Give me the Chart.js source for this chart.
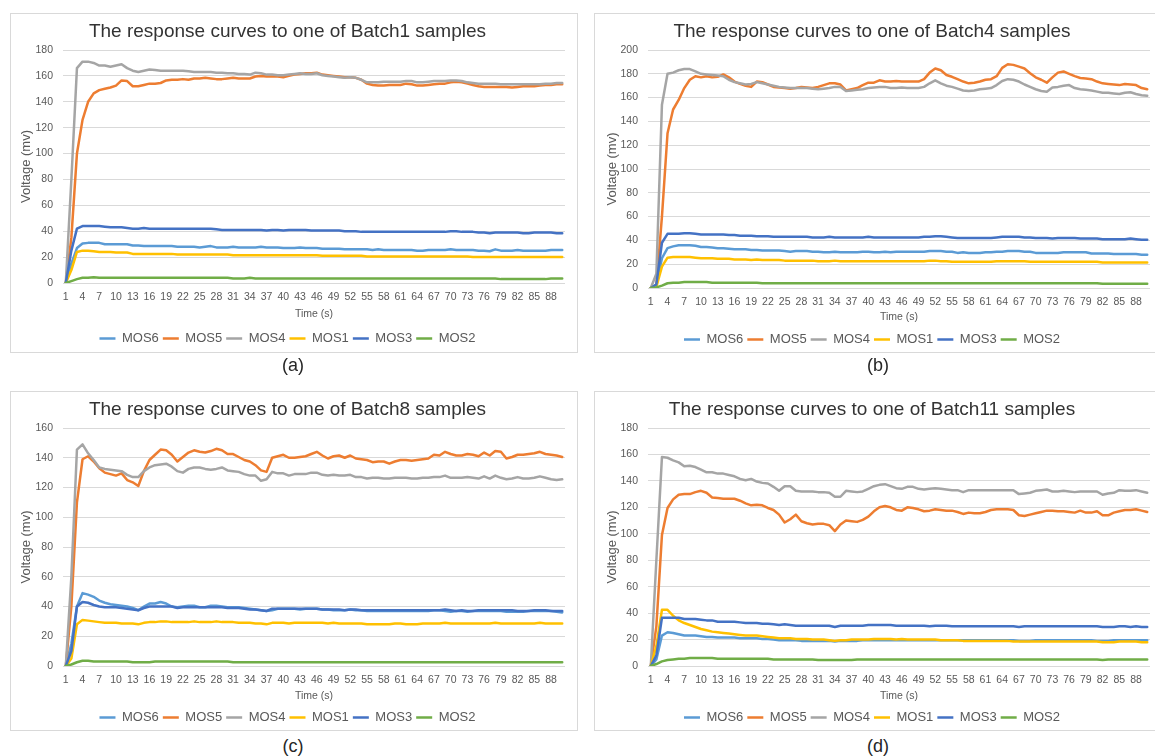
<!DOCTYPE html>
<html>
<head>
<meta charset="utf-8">
<title>MOS sensor response curves</title>
<script src="https://cdn.jsdelivr.net/npm/chart.js@4.4.1/dist/chart.umd.min.js"></script>
<style>
  html, body { margin: 0; padding: 0; background: #ffffff; }
  body { width: 1155px; height: 756px; position: relative; overflow: hidden;
         font-family: "Liberation Sans", Arial, sans-serif; }
  canvas { position: absolute; }
  .frame { position: absolute; border: 1px solid #d9d9d9; box-sizing: border-box; pointer-events: none; }
  .cap { position: absolute; width: 60px; margin-left: -30px; text-align: center;
         font-size: 18px; line-height: 22px; color: #262626; }
</style>
</head>
<body>
<div class="frame" style="left:10px;top:13px;width:568px;height:340px"></div>
<div class="frame" style="left:594px;top:13px;width:570px;height:340px"></div>
<div class="frame" style="left:10px;top:391px;width:568px;height:340px"></div>
<div class="frame" style="left:594px;top:391px;width:570px;height:340px"></div>

<canvas id="chartA" width="568" height="342" style="left:10px;top:13px"></canvas>
<canvas id="chartB" width="565" height="343" style="left:594px;top:13px"></canvas>
<canvas id="chartC" width="568" height="343" style="left:10px;top:391px"></canvas>
<canvas id="chartD" width="565" height="343" style="left:594px;top:391px"></canvas>

<div class="cap" style="left:293px;top:354px">(a)</div>
<div class="cap" style="left:878px;top:354px">(b)</div>
<div class="cap" style="left:293px;top:735px">(c)</div>
<div class="cap" style="left:878px;top:735px">(d)</div>

<script>
// Time axis (s)
const timeLabels = [
  1, 2, 3, 4, 5, 6, 7, 8, 9, 10, 11, 12, 13, 14, 15,
  16, 17, 18, 19, 20, 21, 22, 23, 24, 25, 26, 27, 28, 29, 30,
  31, 32, 33, 34, 35, 36, 37, 38, 39, 40, 41, 42, 43, 44, 45,
  46, 47, 48, 49, 50, 51, 52, 53, 54, 55, 56, 57, 58, 59, 60,
  61, 62, 63, 64, 65, 66, 67, 68, 69, 70, 71, 72, 73, 74, 75,
  76, 77, 78, 79, 80, 81, 82, 83, 84, 85, 86, 87, 88, 89, 90
];

const seriesNames = ['MOS6', 'MOS5', 'MOS4', 'MOS1', 'MOS3', 'MOS2'];
const seriesColors = ['#5B9BD5', '#ED7D31', '#A5A5A5', '#FFC000', '#4472C4', '#70AD47'];

// ---------- Batch1 (mV) ----------
const batch1_MOS6 = [
  0, 15, 27, 30.5, 31, 31, 31, 30, 30, 30, 30, 30, 29, 29, 28.5,
  28.5, 28.5, 28.5, 28.5, 28.5, 28, 28, 28, 28, 27.5, 28, 28.5, 27.5, 27.5, 27.5,
  28, 27.5, 27.5, 27.5, 27.5, 28, 27.5, 27.5, 27.5, 27, 27, 27, 27.5, 27, 27,
  27, 26.5, 26.5, 26.5, 26.5, 26, 26, 26, 26, 26, 25.5, 26, 25.5, 25.5, 25.5,
  25.5, 25.5, 25.5, 25, 25, 25.5, 25.5, 25.5, 25.5, 26, 25.5, 25.5, 25.5, 25.5, 25,
  25, 24.5, 26, 25, 25, 25, 25.5, 25, 25, 25, 25, 25, 25.5, 25.5, 25.5
];
const batch1_MOS5 = [
  0, 35, 100, 126, 140, 146.5, 149, 150, 151, 152.5, 156.5, 156, 152, 152, 153,
  154, 154, 154.5, 156.5, 157, 157, 157.5, 157, 158, 158, 158.5, 158, 157.5, 157.5, 158,
  158.5, 158, 158, 158, 159.5, 160, 159.5, 159.5, 159.5, 159, 160, 161, 161.5, 162, 162,
  162.5, 161, 160.5, 160, 159.5, 159, 159, 158.5, 157, 154, 153, 152.5, 152.5, 153, 153,
  153, 154, 153.5, 152.5, 152.5, 153, 153.5, 154, 154, 155, 155.5, 155, 154, 153, 152,
  151.5, 151.5, 151.5, 151.5, 151.5, 151, 151.5, 152, 152, 152, 152.5, 153, 153, 153.5, 153.5
];
const batch1_MOS4 = [
  0, 80, 166, 171, 171, 170, 168, 168, 167, 168, 169, 166, 164, 163, 164,
  165, 164.5, 164, 164, 164, 164, 164, 163.5, 163, 163, 163, 163, 162.5, 162.5, 162,
  162, 161.5, 161.5, 161, 162.5, 162, 161, 161, 160.5, 160.5, 161, 161.5, 162, 161.5, 161.5,
  162, 160.5, 160, 159.5, 159, 158.5, 159, 158.5, 157, 155, 155, 155, 155.5, 155.5, 155.5,
  155.5, 156, 156, 155, 155, 155.5, 156, 156, 156, 156.5, 156.5, 156, 155, 154.5, 154,
  154, 154, 154, 153.5, 153.5, 153.5, 153.5, 153.5, 153.5, 153.5, 153.5, 154, 154, 154.5, 154.5
];
const batch1_MOS1 = [
  0, 10, 24, 25, 25, 24.5, 24, 24, 24, 23.5, 23.5, 23.5, 22.5, 22.5, 22.5,
  22.5, 22.5, 22.5, 22.5, 22.5, 22, 22, 22, 22, 22, 22, 22, 22, 22, 22,
  21.5, 21.5, 21.5, 21.5, 21.5, 21.5, 21.5, 21.5, 21.5, 21.5, 21.5, 21.5, 21.5, 21.5, 21.5,
  21.5, 21, 21, 21, 21, 21, 21, 21, 21, 20.5, 20.5, 20.5, 20.5, 20.5, 20.5,
  20.5, 20.5, 20.5, 20.5, 20.5, 20.5, 20.5, 20.5, 20.5, 20.5, 20.5, 20.5, 20.5, 20, 20,
  20, 20, 20, 20, 20, 20, 20, 20, 20, 20, 20, 20, 20, 20, 20
];
const batch1_MOS3 = [
  0, 25, 42, 44, 44, 44, 44, 43.5, 43, 43, 43, 42.5, 42, 42, 42.5,
  42, 42, 42, 42, 42, 42, 42, 42, 42, 42, 42, 42, 41.5, 41, 41,
  41, 41, 41, 41, 41, 41, 40.5, 41, 41, 40.5, 41, 41, 41, 41, 40.5,
  40.5, 40.5, 40.5, 40.5, 40.5, 40, 40, 40, 39.5, 39.5, 39.5, 39.5, 39.5, 39.5, 39.5,
  39.5, 39.5, 39.5, 39.5, 39.5, 39.5, 39.5, 39.5, 39.5, 40, 40, 39.5, 39.5, 39.5, 39,
  39, 38.5, 39, 39, 39, 39, 39, 38.5, 38.5, 39, 39, 39, 39, 38.5, 38.5
];
const batch1_MOS2 = [
  0, 1.5, 3, 4, 4, 4.5, 4, 4, 4, 4, 4, 4, 4, 4, 4,
  4, 4, 4, 4, 4, 4, 4, 4, 4, 4, 4, 4, 4, 4, 4,
  3.5, 3.5, 3.5, 4, 3.5, 3.5, 3.5, 3.5, 3.5, 3.5, 3.5, 3.5, 3.5, 3.5, 3.5,
  3.5, 3.5, 3.5, 3.5, 3.5, 3.5, 3.5, 3.5, 3.5, 3.5, 3.5, 3.5, 3.5, 3.5, 3.5,
  3.5, 3.5, 3.5, 3.5, 3.5, 3.5, 3.5, 3.5, 3.5, 3.5, 3.5, 3.5, 3.5, 3.5, 3.5,
  3.5, 3.5, 3.5, 3, 3, 3, 3, 3, 3, 3, 3, 3, 3.5, 3.5, 3.5
];

// ---------- Batch4 (mV) ----------
const batch4_MOS6 = [
  0, 3, 25, 33.5, 35, 36, 36, 36, 35.5, 34.5, 34.5, 34, 33.5, 33.5, 33,
  32.5, 32.5, 32.5, 32, 32, 31.5, 31.5, 31.5, 31.5, 31, 30.5, 31, 31, 31, 30.5,
  30.5, 30, 30, 30.5, 30, 30, 30, 30, 30.5, 30.5, 30, 30, 30.5, 30, 30.5,
  30.5, 30.5, 30.5, 30.5, 30.5, 31, 31, 31, 30.5, 30.5, 29.5, 30, 29.5, 29.5, 29.5,
  30, 30, 30.5, 30.5, 31, 31, 31, 30.5, 30.5, 29.5, 29.5, 29.5, 29.5, 29.5, 30,
  30, 30, 30, 30, 29, 29, 29, 29, 28.5, 28.5, 28.5, 28.5, 28.5, 28, 28
];
const batch4_MOS5 = [
  0, 2, 60, 130, 150, 158, 168, 175, 178, 177, 178, 177, 177.5, 179.5, 177,
  173.5, 171.5, 170, 169, 173.5, 173, 171, 169, 168.5, 168, 167.5, 168, 169, 168.5, 168,
  169, 170.5, 172, 172, 171, 166, 167, 168, 170.5, 172.5, 172.5, 174.5, 173.5, 173.5, 174,
  173.5, 173.5, 173.5, 173.5, 175.5, 181, 184.5, 183, 179, 177.5, 175.5, 173.5, 172, 172.5, 173.5,
  175, 175.5, 178, 185, 188, 187.5, 186, 184.5, 180.5, 177, 175, 172.5, 177, 181, 182,
  180, 178, 176.5, 176, 175.5, 173.5, 172, 171.5, 171, 170.5, 171.5, 171, 170.5, 168, 167
];
const batch4_MOS4 = [
  0, 12, 154, 180, 181, 183, 184, 184, 182, 180, 179.5, 179, 178.5, 178, 175,
  173, 172, 171, 171.5, 173, 172, 171, 170, 169, 168.5, 168, 168, 168, 168, 167.5,
  167, 167.5, 168, 169, 169, 165.5, 166, 166.5, 167, 168, 168.5, 169, 169, 168, 168,
  168.5, 168, 168, 168, 169, 172, 174.5, 172, 170, 169, 167.5, 166, 165.5, 166, 167,
  167.5, 168, 170.5, 174, 175.5, 175, 173.5, 171, 169, 167, 165.5, 165, 168.5, 169, 170,
  170.5, 168, 167, 166.5, 166, 165, 164, 164, 163.5, 163, 164, 164.5, 163, 162, 161.5
];
const batch4_MOS1 = [
  0, 1, 18, 25.5, 26, 26, 26, 26, 25.5, 25, 25, 25, 24.5, 24.5, 24.5,
  24, 24, 24, 23.5, 24, 23.5, 23.5, 23.5, 23.5, 23, 23, 23, 23, 23, 23,
  22.5, 22.5, 22.5, 23, 22.5, 22.5, 22.5, 22.5, 22.5, 22.5, 22.5, 22.5, 22.5, 22.5, 22.5,
  22.5, 22.5, 22.5, 22.5, 22.5, 23, 23, 22.5, 22.5, 22, 22, 22, 22, 22, 22,
  22, 22, 22.5, 22.5, 22.5, 22.5, 22.5, 22.5, 22, 22, 22, 22, 22, 22, 22,
  22, 22, 22, 22, 22, 22, 21.5, 21.5, 21.5, 21.5, 21.5, 21.5, 21.5, 21.5, 21.5
];
const batch4_MOS3 = [
  0, 3, 38, 45.5, 45.5, 45.5, 46, 46, 45.5, 45, 45, 45, 45, 45, 44.5,
  44.5, 44, 44, 44, 43.5, 43.5, 43.5, 43, 43, 43, 43, 43, 43, 43, 42.5,
  42.5, 42.5, 43, 42.5, 42.5, 42.5, 42.5, 42.5, 42.5, 43, 42.5, 42.5, 42.5, 42.5, 42.5,
  42.5, 42.5, 42.5, 42.5, 43, 43, 43.5, 43.5, 43, 42.5, 42, 42, 42, 42, 42,
  42, 42, 42.5, 43, 43, 43, 43, 42.5, 42.5, 42, 42, 42, 41.5, 42, 42,
  42, 42, 41.5, 41.5, 41.5, 41.5, 41, 41, 41, 41, 41, 41.5, 41, 40.5, 40.5
];
const batch4_MOS2 = [
  0, 0.5, 2, 4, 4.5, 4.5, 5, 5, 5, 5, 5, 4.5, 4.5, 4.5, 4.5,
  4.5, 4.5, 4.5, 4.5, 4.5, 4, 4, 4, 4, 4, 4, 4, 4, 4, 4,
  4, 4, 4, 4, 4, 4, 4, 4, 4, 4, 4, 4, 4, 4, 4,
  4, 4, 4, 4, 4, 4, 4, 4, 4, 4, 4, 4, 4, 4, 4,
  4, 4, 4, 4, 4, 4, 4, 4, 4, 4, 4, 4, 4, 4, 4,
  4, 4, 4, 4, 4, 4, 3.5, 3.5, 3.5, 3.5, 3.5, 3.5, 3.5, 3.5, 3.5
];

// ---------- Batch8 (mV) ----------
const batch8_MOS6 = [
  0, 15, 40, 49, 48, 46.5, 44, 42.5, 41.5, 41, 40.5, 40, 39, 37.5, 40,
  42, 42, 43, 42, 40, 39.5, 40, 40.5, 40.5, 39.5, 39.5, 40.5, 40.5, 40, 39.5,
  39.5, 39.5, 39, 38.5, 38, 37.5, 37, 37.5, 38.5, 38.5, 38.5, 38.5, 38, 38.5, 38.5,
  38.5, 38, 38, 37.5, 37.5, 37.5, 38, 37.5, 37.5, 37, 37, 37, 37, 37, 37,
  37, 37, 37, 37, 37, 37, 37.5, 37.5, 37, 36.5, 37, 37, 36.5, 37, 37,
  37, 37, 37, 37, 36.5, 36.5, 36.5, 36.5, 37, 37, 37, 37, 37, 36.5, 36
];
const batch8_MOS5 = [
  0, 40, 110, 139, 141, 137.5, 133, 130, 129, 128, 129.5, 125, 123.5, 121, 131,
  138.5, 142, 145.5, 145, 142, 137.5, 140.5, 143.5, 145, 144, 143.5, 144.5, 146, 145, 142.5,
  142.5, 140.5, 138.5, 137.5, 135, 131.5, 130.5, 140, 141, 142, 140, 140, 140.5, 141, 142.5,
  144, 141.5, 139.5, 141, 141.5, 140, 141.5, 139.5, 139, 138.5, 137, 137.5, 137.5, 136, 137.5,
  138.5, 138.5, 138, 138.5, 139, 139.5, 142, 141.5, 144, 142.5, 141.5, 141.5, 142.5, 142, 141,
  143.5, 141.5, 144.5, 144, 139.5, 140.5, 142, 142, 142.5, 143, 144, 142.5, 142, 141.5, 140.5
];
const batch8_MOS4 = [
  0, 60, 145.5, 149, 143, 138.5, 133.5, 132.5, 132, 131.5, 131, 128.5, 127, 127, 131,
  133.5, 135, 135.5, 136, 134, 131, 130, 132.5, 133.5, 133.5, 132.5, 132, 132.5, 133.5, 131.5,
  131, 130.5, 129, 128, 128, 124.5, 125.5, 130.5, 129.5, 129.5, 128, 129, 129, 129, 130,
  130, 128.5, 128, 128.5, 128, 128, 128.5, 127, 127, 126, 126.5, 126.5, 126, 126, 126.5,
  126.5, 126.5, 126, 126, 126.5, 126.5, 127, 127, 128, 126.5, 126.5, 126.5, 127, 126.5, 126,
  127.5, 126, 128, 126.5, 125.5, 126, 127, 126, 126, 126.5, 127.5, 126.5, 125.5, 125, 125.5
];
const batch8_MOS1 = [
  0, 5, 28, 31, 30.5, 30, 29.5, 29, 29, 29, 28.5, 28.5, 28.5, 28, 29,
  29.5, 29.5, 30, 30, 29.5, 29.5, 29.5, 29.5, 30, 29.5, 29.5, 29.5, 30, 29.5, 29.5,
  29.5, 29, 29, 29, 28.5, 28.5, 28, 29, 29, 29, 28.5, 29, 29, 29, 29,
  29, 29, 28.5, 29, 28.5, 28.5, 28.5, 28.5, 28.5, 28, 28, 28, 28, 28, 28.5,
  28.5, 28, 28, 28, 28.5, 28.5, 28.5, 28.5, 29, 28.5, 28.5, 28.5, 28.5, 28.5, 28.5,
  28.5, 28.5, 29, 28.5, 28.5, 28.5, 28.5, 28.5, 28.5, 28.5, 29, 28.5, 28.5, 28.5, 28.5
];
const batch8_MOS3 = [
  0, 10, 40, 43, 42.5, 41, 40, 39.5, 39.5, 39.5, 39, 38.5, 38, 37.5, 39,
  40, 40, 40, 40, 40, 39, 39.5, 39.5, 39.5, 39.5, 39.5, 39.5, 39.5, 39.5, 39,
  39, 39, 38.5, 38, 38, 37.5, 37, 38.5, 38.5, 38.5, 38.5, 38.5, 38.5, 38.5, 38.5,
  38.5, 38, 38, 38, 38, 37.5, 38, 38, 37.5, 37.5, 37.5, 37.5, 37.5, 37.5, 37.5,
  37.5, 37.5, 37.5, 37.5, 37.5, 37.5, 37.5, 37.5, 38, 37.5, 37, 37.5, 37, 37, 37.5,
  37.5, 37.5, 37.5, 37.5, 37.5, 37.5, 37, 37, 37, 37.5, 37.5, 37.5, 37, 37, 37
];
const batch8_MOS2 = [
  0, 1, 2.5, 3.5, 3.5, 3, 3, 3, 3, 3, 3, 3, 2.5, 2.5, 2.5,
  2.5, 3, 3, 3, 3, 3, 3, 3, 3, 3, 3, 3, 3, 3, 3,
  2.5, 2.5, 2.5, 2.5, 2.5, 2.5, 2.5, 2.5, 2.5, 2.5, 2.5, 2.5, 2.5, 2.5, 2.5,
  2.5, 2.5, 2.5, 2.5, 2.5, 2.5, 2.5, 2.5, 2.5, 2.5, 2.5, 2.5, 2.5, 2.5, 2.5,
  2.5, 2.5, 2.5, 2.5, 2.5, 2.5, 2.5, 2.5, 2.5, 2.5, 2.5, 2.5, 2.5, 2.5, 2.5,
  2.5, 2.5, 2.5, 2.5, 2.5, 2.5, 2.5, 2.5, 2.5, 2.5, 2.5, 2.5, 2.5, 2.5, 2.5
];

// ---------- Batch11 (mV) ----------
const batch11_MOS6 = [
  0, 5, 23, 25.5, 25, 24, 23, 23, 23, 22.5, 22, 22, 21.5, 21.5, 21.5,
  21.5, 21, 21, 21, 21, 20.5, 20.5, 20, 19.5, 19.5, 19.5, 19.5, 19, 19, 19,
  19, 19, 19, 18.5, 19, 19, 19, 19, 19.5, 19.5, 19.5, 19.5, 19.5, 19.5, 19.5,
  19.5, 19.5, 19.5, 19.5, 19.5, 19.5, 19.5, 19.5, 19.5, 19.5, 19.5, 19.5, 19.5, 19.5, 19.5,
  19.5, 19.5, 19.5, 19.5, 19.5, 19.5, 19, 19, 19, 19.5, 19.5, 19.5, 19.5, 19.5, 19.5,
  19.5, 19.5, 19.5, 19.5, 19.5, 19, 19, 19, 19.5, 19.5, 19.5, 19.5, 19.5, 19.5, 19.5
];
const batch11_MOS5 = [
  0, 30, 99, 119.5, 126, 129.5, 130, 130, 131.5, 132.5, 131, 127.5, 127, 126.5, 126.5,
  126.5, 125, 123, 121.5, 122, 121.5, 119.5, 118, 114.5, 108.5, 111, 114.5, 109.5, 108, 107,
  107.5, 107.5, 106.5, 102, 107, 110, 109.5, 109, 110.5, 113, 117, 120, 121, 120, 118,
  117.5, 120, 119.5, 118.5, 117, 117.5, 118.5, 118, 117.5, 117.5, 116.5, 115, 116, 115.5, 115.5,
  116.5, 118, 118.5, 118.5, 118.5, 118, 114, 113.5, 114.5, 115.5, 116.5, 117.5, 117.5, 117, 117,
  116.5, 116, 117.5, 116, 116, 117, 114, 114, 116, 117, 118, 118, 118.5, 117.5, 116.5
];
const batch11_MOS4 = [
  0, 80, 158, 157.5, 155.5, 154, 151, 151.5, 150.5, 148.5, 146.5, 146.5, 145.5, 145.5, 144.5,
  143.5, 141.5, 140.5, 141.5, 139.5, 138.5, 138, 135.5, 132.5, 136, 136, 132.5, 132, 132, 132,
  131.5, 131.5, 131, 128, 128, 132.5, 132, 131.5, 132, 134, 136, 137, 137.5, 136, 134.5,
  134, 135.5, 135.5, 134, 133.5, 134, 134.5, 134, 133.5, 133, 133, 131.5, 133, 133, 133,
  133, 133, 133, 133, 133, 133, 130, 130.5, 131, 132.5, 133, 133.5, 132, 132, 132.5,
  132, 131.5, 132, 132, 132, 132, 129.5, 130.5, 131, 133, 132.5, 132.5, 133, 132, 131
];
const batch11_MOS1 = [
  0, 15, 42.5, 42.5, 38, 34.5, 32.5, 31, 29.5, 28, 27, 26, 25.5, 25, 24.5,
  24, 23.5, 23, 23, 23, 22.5, 22, 21.5, 21, 21, 21, 20.5, 20.5, 20.5, 20,
  20, 20, 19.5, 19, 19.5, 19.5, 20, 20, 20, 20, 20.5, 20.5, 20.5, 20.5, 20,
  20.5, 20, 20, 20, 20, 20, 20, 19.5, 19.5, 19.5, 19.5, 19, 19, 19, 19,
  19, 19, 19, 19, 19, 18.5, 18.5, 18.5, 18.5, 18.5, 18.5, 18.5, 18.5, 18.5, 18.5,
  18.5, 18.5, 18.5, 18.5, 18.5, 18.5, 18, 18, 18, 18.5, 18.5, 18.5, 18.5, 18, 18
];
const batch11_MOS3 = [
  0, 8, 36.5, 36.5, 36.5, 36.5, 35.5, 35.5, 35.5, 35, 34.5, 34.5, 33.5, 33.5, 33.5,
  33.5, 33, 32.5, 32.5, 32.5, 32, 32, 31.5, 31, 31.5, 31, 30.5, 30.5, 30.5, 30.5,
  30.5, 30.5, 30.5, 29.5, 30.5, 30.5, 30.5, 30.5, 30.5, 31, 31, 31, 31, 31, 30.5,
  30.5, 30.5, 30.5, 30.5, 30.5, 30, 30.5, 30.5, 30.5, 30, 30, 30, 30, 30, 30,
  30, 30, 30, 30, 30, 30, 29.5, 30, 30, 30, 30, 30, 30, 30, 30,
  30, 30, 30, 30, 30, 30, 29.5, 29.5, 29.5, 30, 30, 29.5, 30, 29.5, 29.5
];
const batch11_MOS2 = [
  0, 1.5, 3.5, 4.5, 5, 5.5, 5.5, 6, 6, 6, 6, 6, 5.5, 5.5, 5.5,
  5.5, 5.5, 5.5, 5.5, 5.5, 5.5, 5.5, 5, 5, 5, 5, 5, 5, 5, 5,
  4.5, 4.5, 4.5, 4.5, 4.5, 4.5, 4.5, 5, 5, 5, 5, 5, 5, 5, 5,
  5, 5, 5, 5, 5, 5, 5, 5, 5, 5, 5, 5, 5, 5, 5,
  5, 5, 5, 5, 5, 5, 5, 5, 5, 5, 5, 5, 5, 5, 5,
  5, 5, 5, 5, 5, 5, 4.5, 5, 5, 5, 5, 5, 5, 5, 5
];

const FONT = '"Liberation Sans", Arial, sans-serif';
const INK = '#595959';

// One panel per sample batch
const panels = [
  { canvas: 'chartA', title: 'The response curves to one of Batch1 samples', yMax: 180,
    series: [batch1_MOS6, batch1_MOS5, batch1_MOS4, batch1_MOS1, batch1_MOS3, batch1_MOS2],
    box: { yWidth: 53, right: 13, xHeight: 45, timePad: 7.5, yTitlePad: 9 } },
  { canvas: 'chartB', title: 'The response curves to one of Batch4 samples', yMax: 200,
    series: [batch4_MOS6, batch4_MOS5, batch4_MOS4, batch4_MOS1, batch4_MOS3, batch4_MOS2],
    box: { yWidth: 54, right: 9, xHeight: 41, timePad: 5.5, yTitlePad: 10.5 } },
  { canvas: 'chartC', title: 'The response curves to one of Batch8 samples', yMax: 160,
    series: [batch8_MOS6, batch8_MOS5, batch8_MOS4, batch8_MOS1, batch8_MOS3, batch8_MOS2],
    box: { yWidth: 53, right: 13, xHeight: 41, timePad: 4.5, yTitlePad: 9 } },
  { canvas: 'chartD', title: 'The response curves to one of Batch11 samples', yMax: 180,
    series: [batch11_MOS6, batch11_MOS5, batch11_MOS4, batch11_MOS1, batch11_MOS3, batch11_MOS2],
    box: { yWidth: 54, right: 9, xHeight: 41, timePad: 4.5, yTitlePad: 10.5 } }
];

function buildChart(p) {
  const b = p.box;
  return new Chart(document.getElementById(p.canvas), {
    type: 'line',
    data: {
      labels: timeLabels,
      datasets: seriesNames.map((name, k) => ({
        label: name,
        data: p.series[k],
        borderColor: seriesColors[k],
        backgroundColor: seriesColors[k],
        borderWidth: 2.5,
        pointRadius: 0,
        pointHoverRadius: 0,
        tension: 0,
        borderJoinStyle: 'round',
        borderCapStyle: 'round',
        // later series are painted over earlier ones
        order: seriesNames.length - 1 - k
      }))
    },
    options: {
      responsive: false,
      animation: false,
      devicePixelRatio: 1,
      events: [],
      layout: { padding: { left: 0, right: b.right, top: 0, bottom: 0 } },
      plugins: {
        title: {
          display: true, text: p.title, color: '#333333',
          font: { family: FONT, size: 19, weight: 'normal', lineHeight: 1.2 },
          padding: { top: 7.4, bottom: 6.8 }
        },
        legend: {
          position: 'bottom',
          labels: {
            usePointStyle: true, pointStyle: 'line', pointStyleWidth: 16,
            color: INK, font: { family: FONT, size: 13 }, padding: 4,
            sort: (a, c) => a.datasetIndex - c.datasetIndex
          }
        },
        tooltip: { enabled: false }
      },
      scales: {
        x: {
          type: 'category',
          offset: true,
          grid: { display: false, drawTicks: false },
          border: { display: false },
          ticks: {
            autoSkip: false, maxRotation: 0, minRotation: 0, padding: 8,
            color: INK, font: { family: FONT, size: 10.5 },
            callback: function (value, index) {
              return index % 3 === 0 ? this.getLabelForValue(value) : '';
            }
          },
          title: {
            display: true, text: 'Time (s)', color: INK,
            font: { family: FONT, size: 10.5, lineHeight: 1.2 },
            padding: { top: 0, bottom: b.timePad }
          },
          afterFit: (scale) => { scale.height = b.xHeight; }
        },
        y: {
          min: 0, max: p.yMax,
          ticks: { stepSize: 20, padding: 10, color: INK, font: { family: FONT, size: 10.5 } },
          grid: { color: '#d9d9d9', lineWidth: 1, drawTicks: false },
          border: { display: false },
          title: {
            display: true, text: 'Voltage (mv)', color: INK,
            font: { family: FONT, size: 13, lineHeight: 1.2 },
            padding: { top: b.yTitlePad, bottom: 0 }
          },
          afterFit: (scale) => { scale.width = b.yWidth; }
        }
      }
    }
  });
}

panels.forEach(buildChart);
</script>
</body>
</html>
